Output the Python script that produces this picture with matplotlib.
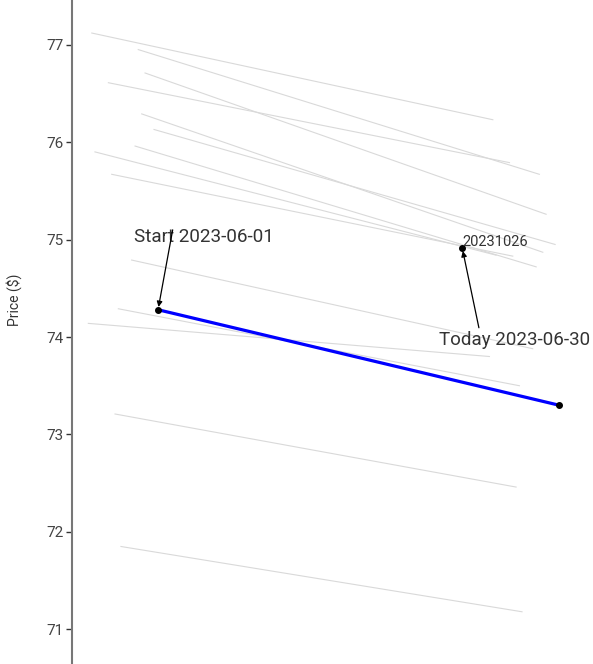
import matplotlib
matplotlib.use("Agg")
import matplotlib.pyplot as plt
import numpy as np

plt.rcParams['font.family'] = ['Roboto', 'DejaVu Sans']

# Historical curves (day offset of start relative to 2023-06-01, start price, end price)
hist_start_day = [-4.79, -1.43, -0.94, -3.59, -1.18, -0.29, -1.66, -4.56, -3.35,
                  -1.91, -2.87, -5.04, -3.11, -2.68]
hist_start_price = [77.12, 76.95, 76.71, 76.61, 76.29, 76.13, 75.96, 75.90, 75.67,
                    74.79, 74.29, 74.14, 73.21, 71.85]
hist_end_price = [76.23, 75.67, 75.26, 75.79, 74.87, 74.95, 74.72, 74.84, 74.83,
                  73.88, 73.50, 73.80, 72.46, 71.18]
span_days = 29

# Current curve
cur_days = [0, 29]
cur_prices = [74.28, 73.30]
start_label = "Start 2023-06-01"
today_label = "Today 2023-06-30"

# Highlighted point
pt_day = 22
pt_price = 74.91
pt_label = "20231026"

fig = plt.figure(figsize=(5.93, 6.64), dpi=100)
ax = fig.add_axes([72/593, 0, 521/593, 1])

for s, p0, p1 in zip(hist_start_day, hist_start_price, hist_end_price):
    ax.plot([s, s + span_days], [p0, p1], color='#d9d9d9', lw=0.8, zorder=1)

ax.plot(cur_days, cur_prices, color='#0000ff', lw=2.3, zorder=3)
ax.plot(cur_days, cur_prices, 'o', color='black', ms=4, zorder=4)
ax.plot([pt_day], [pt_price], 'o', color='black', ms=4, zorder=4)

ax.text(pt_day, pt_price + 0.07, pt_label, fontsize=10.5, color='#333333',
        ha='left', va='center', zorder=5)

ax.text(-1.73, 75.03, start_label, fontsize=13.6, color='#333333',
        ha='left', va='center', zorder=5)
ax.annotate('', xy=(cur_days[0], cur_prices[0]), xytext=(1.06, 75.10),
            arrowprops=dict(arrowstyle='-|>', color='black', lw=0.9,
                            mutation_scale=8, shrinkA=0, shrinkB=2), zorder=5)

ax.text(20.35, 73.97, today_label, fontsize=13.5, color='#333333',
        ha='left', va='center', zorder=5)
ax.annotate('', xy=(pt_day, pt_price), xytext=(23.2, 74.095),
            arrowprops=dict(arrowstyle='-|>', color='black', lw=0.9,
                            mutation_scale=8, shrinkA=0, shrinkB=2), zorder=5)

ax.set_xlim(-6.22, 31.45)
ax.set_ylim(70.644, 77.459)
ax.set_yticks([71, 72, 73, 74, 75, 76, 77])
ax.set_xticks([])
for side in ['top', 'right', 'bottom']:
    ax.spines[side].set_visible(False)
ax.spines['left'].set_color('#777777')
ax.spines['left'].set_linewidth(1.5)
ax.tick_params(axis='y', length=4, width=1, color='#333333', labelsize=11,
               labelcolor='#444444', pad=2)
ax.set_ylabel('Price ($)', fontsize=10, color='#333333')
ax.yaxis.set_label_coords(-0.096, 0.548)

fig.savefig('out.png', dpi=100)
